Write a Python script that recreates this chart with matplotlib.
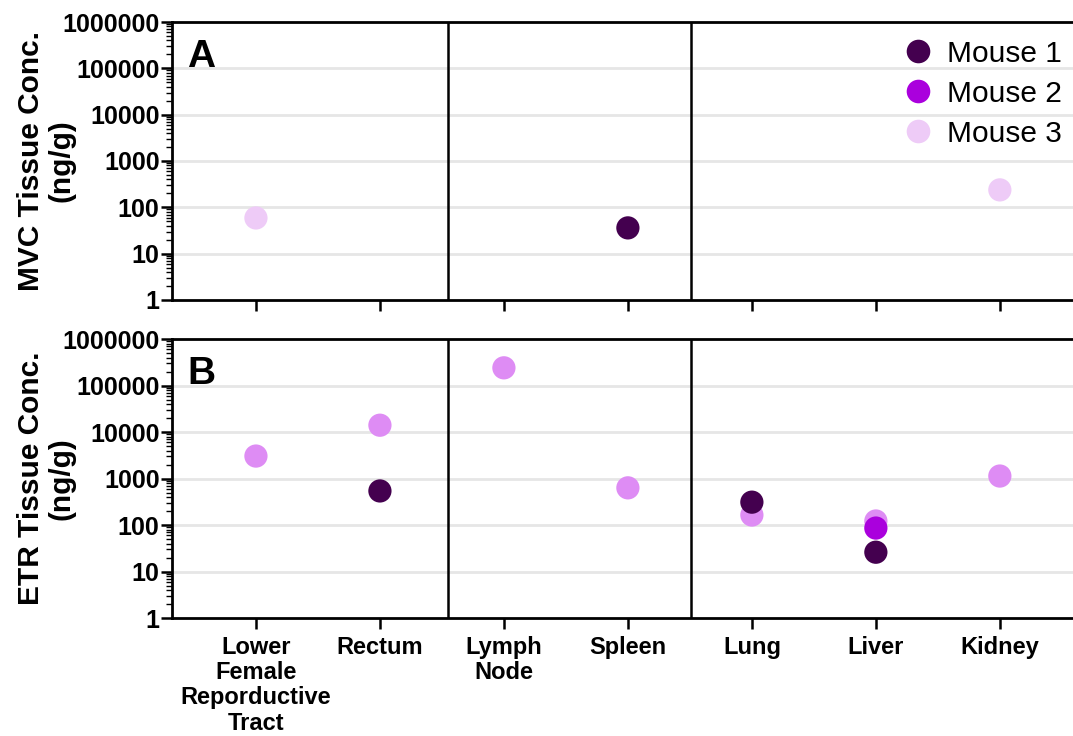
"""Tissue concentrations of MVC and ETR per organ, three mice."""
import matplotlib.pyplot as plt
from matplotlib.ticker import LogLocator, NullFormatter, FixedLocator
from matplotlib.lines import Line2D

plt.rcParams['font.family'] = ['Liberation Sans', 'DejaVu Sans']

tissues = ["Lower\nFemale\nReporductive\nTract", "Rectum", "Lymph\nNode",
           "Spleen", "Lung", "Liver", "Kidney"]
mice = ["Mouse 1", "Mouse 2", "Mouse 3"]

# (tissue index, concentration ng/g); missing points are below LOQ
mvc_mouse1 = [(3, 36)]
mvc_mouse2 = []
mvc_mouse3 = [(0, 59), (6, 238)]

etr_mouse1 = [(1, 540), (4, 310), (5, 26)]
etr_mouse2 = [(5, 86)]
etr_mouse3 = [(0, 3040), (1, 14000), (2, 240000), (3, 630), (4, 164),
              (5, 122), (6, 1130)]

group_breaks = [1.55, 3.51]

col_m1 = '#44004f'
col_m2 = '#aa00dd'
col_m3_light = '#eecbf7'
col_m3_b = '#de8cf4'

fig = plt.figure(figsize=(10.73, 7.36), dpi=100)
ax_a = fig.add_axes([0.1603, 0.5924, 0.8397, 0.3777])
ax_b = fig.add_axes([0.1603, 0.1603, 0.8397, 0.3791])

panels = [
    (ax_a, "A", "MVC Tissue Conc.\n(ng/g)",
     [(mvc_mouse3, col_m3_light), (mvc_mouse2, col_m2), (mvc_mouse1, col_m1)]),
    (ax_b, "B", "ETR Tissue Conc.\n(ng/g)",
     [(etr_mouse3, col_m3_b), (etr_mouse2, col_m2), (etr_mouse1, col_m1)]),
]

for ax, letter, ylabel, series in panels:
    for pts, col in series:
        if pts:
            xs = [p[0] for p in pts]
            ys = [p[1] for p in pts]
            ax.scatter(xs, ys, s=280, color=col, edgecolors='none', zorder=3)

    ax.set_yscale('log')
    ax.set_ylim(1, 1e6)
    ax.set_xlim(-0.677, 6.59)
    majors = [10 ** k for k in range(7)]
    ax.yaxis.set_major_locator(FixedLocator(majors))
    ax.set_yticklabels([str(v) for v in majors], fontsize=18, fontweight='bold')
    ax.yaxis.set_minor_locator(LogLocator(base=10, subs=range(2, 10), numticks=20))
    ax.yaxis.set_minor_formatter(NullFormatter())
    ax.tick_params(axis='y', which='major', length=8, width=1.8, pad=1)
    ax.tick_params(axis='y', which='minor', length=4, width=1.0)

    ax.set_xticks(range(len(tissues)))
    ax.tick_params(axis='x', length=8, width=1.8, pad=5)

    for yv in majors[1:-1]:
        ax.axhline(yv, color='#e6e6e6', lw=2, zorder=0)

    for xb in group_breaks:
        ax.axvline(xb, color='black', lw=1.8, zorder=2)

    for side in ['left', 'top', 'bottom']:
        ax.spines[side].set_linewidth(2)
    ax.spines['right'].set_visible(False)

    ax.set_ylabel(ylabel, fontsize=21.5, fontweight='bold', linespacing=1.1)
    ax.text(0.017, 0.94, letter, transform=ax.transAxes, fontsize=28,
            fontweight='bold', va='top', ha='left')

ax_a.set_xticklabels([])
ax_b.set_xticklabels(tissues, fontsize=17, fontweight='bold', linespacing=1.12)
ax_a.yaxis.set_label_coords(-0.107, 0.5)
ax_b.yaxis.set_label_coords(-0.107, 0.5)

handles = [Line2D([], [], marker='o', ls='none', markersize=17, color=c,
                  markeredgecolor='none')
           for c in (col_m1, col_m2, col_m3_light)]
ax_a.legend(handles, mice, loc='upper right', frameon=False, fontsize=21.5,
            handletextpad=0.25, labelspacing=0.4, borderaxespad=0.2,
            bbox_to_anchor=(1.008, 1.0), handlelength=1.5)

fig.savefig("out.png", dpi=100)
